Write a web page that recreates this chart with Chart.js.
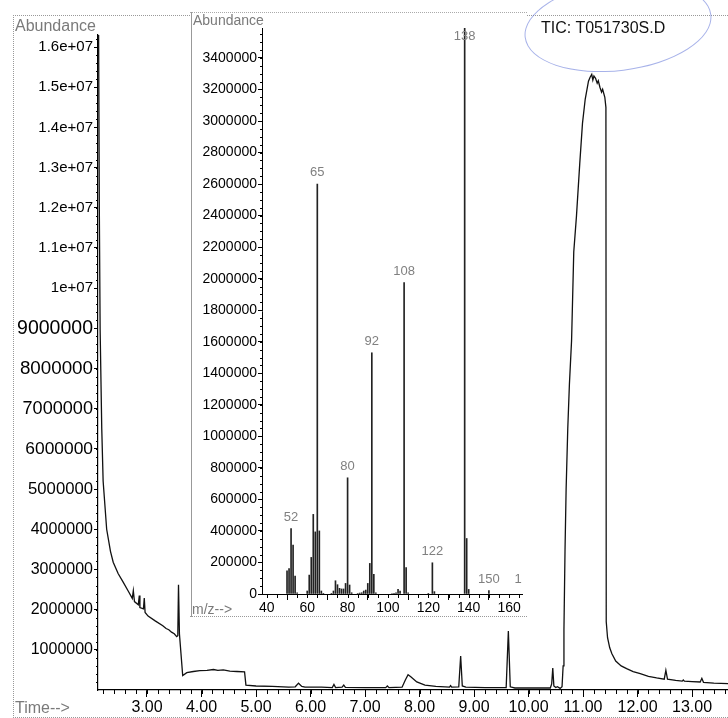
<!DOCTYPE html>
<html>
<head>
<meta charset="utf-8">
<script src="https://cdn.jsdelivr.net/npm/chart.js@4.4.1/dist/chart.umd.min.js"></script>
<style>
html, body { margin: 0; padding: 0; background: #fff; }
body { width: 728px; height: 718px; position: relative; overflow: hidden; font-family: "Liberation Sans", Arial, sans-serif; }
#frame { position: absolute; left: 13px; top: 15px; width: 730px; height: 701px; border-left: 1px dotted #999; border-top: 1px dotted #999; border-bottom: 1px dotted #999; }
#main { position: absolute; left: 0; top: 0; }
#inset-wrap { position: absolute; left: 190px; top: 12px; width: 337px; height: 605px; background: #fff; }
#inset { position: absolute; left: 0; top: 0; }
.edge { position: absolute; }
.txt { position: absolute; white-space: nowrap; line-height: 1; }
.gray { color: #7a7a7a; }
#ring { position: absolute; left: 524px; top: -19px; width: 186px; height: 88px; border: 1.3px solid rgba(95, 115, 215, 0.55); border-radius: 50%; transform: rotate(-7deg); }
</style>
</head>
<body>
<div id="frame"></div>
<canvas id="main" width="728" height="718"></canvas>
<div class="txt gray" style="left:15px; top:18px; font-size:16px;">Abundance</div>
<div class="txt gray" style="left:15px; top:700px; font-size:16px;">Time--&gt;</div>

<div id="inset-wrap">
  <canvas id="inset" width="337" height="605"></canvas>
  <div class="edge" style="left:0; top:0; width:337px; border-top:1px dotted #aaa;"></div>
  <div class="edge" style="left:0; top:604px; width:337px; border-top:1px dotted #999;"></div>
  <div class="edge" style="left:1px; top:0; height:605px; border-left:1px solid #999;"></div>
  <div class="txt gray" style="left:3px; top:1px; font-size:14px;">Abundance</div>
  <div class="txt gray" style="left:2px; top:590px; font-size:14px;">m/z--&gt;</div>
</div>

<div id="ring"></div>
<div class="txt" style="left:541px; top:20px; font-size:16px; color:#111;">TIC: T051730S.D</div>

<script>
// TIC chromatogram (retention time in minutes, abundance)
var retentionTimes = [
    2.11, 2.125, 2.14, 2.17, 2.195, 2.26, 2.33, 2.38, 2.47, 2.56, 2.66, 2.73, 2.749, 2.77,
    2.84, 2.859, 2.87, 2.935, 2.95, 2.965, 3.02, 3.15, 3.29, 3.35, 3.40, 3.45, 3.50, 3.545,
    3.565, 3.578, 3.595, 3.655, 3.73, 3.85, 3.97, 4.10, 4.22, 4.30, 4.40, 4.52, 4.65, 4.79,
    4.815, 5.00, 5.30, 5.60, 5.72, 5.78, 5.84, 5.90, 6.20, 6.40, 6.43, 6.46, 6.58, 6.61,
    6.64, 7.00, 7.38, 7.41, 7.44, 7.68, 7.74, 7.79, 7.84, 7.95, 8.10, 8.30, 8.55, 8.57,
    8.59, 8.72, 8.755, 8.785, 8.85, 9.20, 9.59, 9.63, 9.665, 9.75, 10.20, 10.40, 10.425,
    10.445, 10.465, 10.50, 10.53, 10.58, 10.615, 10.635, 10.65, 10.67, 10.69, 10.72, 10.75,
    10.79, 10.81, 10.83, 10.88, 10.94, 10.99, 11.04, 11.10, 11.13, 11.16, 11.18, 11.20,
    11.23, 11.26, 11.28, 11.31, 11.34, 11.36, 11.40, 11.42, 11.426, 11.45, 11.49, 11.53,
    11.60, 11.70, 11.80, 11.92, 12.05, 12.20, 12.35, 12.49, 12.52, 12.55, 12.70, 12.82,
    12.84, 12.86, 13.00, 13.15, 13.18, 13.21, 13.40, 13.66
];
var ticAbundance = [
    17000000, 12000000, 8970000, 6500000, 5200000, 4000000, 3450000, 3180000, 2900000, 2690000, 2450000, 2280000, 2470000, 2200000,
    2120000, 2350000, 2050000, 2020000, 2290000, 1930000, 1840000, 1720000, 1600000, 1530000, 1500000, 1440000, 1400000, 1330000,
    1350000, 2620000, 1400000, 360000, 430000, 460000, 480000, 490000, 510000, 490000, 500000, 470000, 460000, 450000,
    120000, 100000, 90000, 70000, 80000, 170000, 90000, 70000, 70000, 60000, 140000, 60000, 70000, 120000,
    65000, 60000, 60000, 100000, 60000, 70000, 250000, 380000, 330000, 200000, 120000, 90000, 70000, 110000,
    70000, 80000, 845000, 100000, 70000, 60000, 60000, 1465000, 80000, 50000, 50000, 50000, 150000,
    546000, 100000, 60000, 80000, 40000, 80000, 600000, 1500000, 3500000, 5000000, 6500000, 7600000,
    8700000, 9800000, 10900000, 11800000, 13100000, 14100000, 14700000, 15150000, 15250000, 15320000, 15180000, 15280000,
    15220000, 15100000, 15160000, 15000000, 14880000, 14950000, 14750000, 14500000, 1700000, 1300000, 1050000, 900000,
    720000, 600000, 530000, 460000, 405000, 340000, 300000, 270000, 490000, 270000, 240000, 220000,
    250000, 220000, 210000, 200000, 290000, 190000, 170000, 160000
];

// mass spectrum inset (m/z, abundance)
var spectrumMz = [
    50, 51, 52, 53, 54, 55, 60, 61, 62, 63, 64, 65, 66, 67, 68,
    72, 73, 74, 75, 76, 77, 78, 79, 80, 81, 82,
    85, 86, 87, 88, 89, 90, 91, 92, 93, 94,
    102, 103, 104, 105, 106, 108, 109, 110,
    120, 122, 123, 138, 139, 140, 150, 168
];
var spectrumAbund = [
    147000, 162000, 415000, 310000, 114000, 8000, 19000, 120000, 232000, 505000, 394000, 2600000, 400000, 19000, 4000,
    4000, 19000, 84000, 59000, 36000, 32000, 32000, 67000, 737000, 57000, 8000,
    3000, 6000, 8000, 19000, 25000, 67000, 194000, 1530000, 124000, 8000,
    3000, 4000, 8000, 29000, 19000, 1975000, 168000, 8000,
    4000, 198000, 15000, 3600000, 352000, 29000, 21000, 20000
];
var labelledMz = [52, 65, 80, 92, 108, 122, 138, 150, 168];

// tick values
var mainYTickValues = [
    1000000, 2000000, 3000000, 4000000, 5000000, 6000000, 7000000, 8000000,
    9000000, 10000000, 11000000, 12000000, 13000000, 14000000, 15000000, 16000000
];
var mainXTickValues = [3, 4, 5, 6, 7, 8, 9, 10, 11, 12, 13];
var insetYTickValues = [
    0, 200000, 400000, 600000, 800000, 1000000, 1200000, 1400000, 1600000, 1800000,
    2000000, 2200000, 2400000, 2600000, 2800000, 3000000, 3200000, 3400000
];
var insetXTickValues = [40, 60, 80, 100, 120, 140, 160];

var mainRange = { xMin: 2.101, xMax: 13.66, yMin: 0, yMax: 16300000 };
var insetRange = { xMin: 37.6, xMax: 166.4, yMin: 0, yMax: 3590000 };

var FONT = '"Liberation Sans", Arial, sans-serif';

var minorTicks = {
    id: 'minorTicks',
    afterDraw: function (chart, args, opts) {
        var ctx = chart.ctx, xs = chart.scales.x, ys = chart.scales.y, i, v, p;
        ctx.save();
        ctx.strokeStyle = '#000';
        ctx.lineWidth = 1;
        ctx.beginPath();
        for (i = 0; (v = opts.xStart + i * opts.xStep) <= xs.max; i += 1) {
            p = Math.round(xs.getPixelForValue(v)) + 0.5;
            ctx.moveTo(p, xs.top);
            ctx.lineTo(p, xs.top + opts.xLen);
        }
        for (i = 1; (v = i * opts.yStep) <= ys.max; i += 1) {
            p = Math.round(ys.getPixelForValue(v)) + 0.5;
            ctx.moveTo(ys.right, p);
            ctx.lineTo(ys.right - opts.yLen, p);
        }
        ctx.stroke();
        ctx.restore();
    }
};

var peakLabels = {
    id: 'peakLabels',
    afterDatasetsDraw: function (chart) {
        var ctx = chart.ctx, area = chart.chartArea, xs = chart.scales.x, ys = chart.scales.y;
        ctx.save();
        ctx.beginPath();
        ctx.rect(area.left, 0, area.right - area.left, chart.height);
        ctx.clip();
        ctx.font = '13px ' + FONT;
        ctx.fillStyle = '#808080';
        ctx.textAlign = 'center';
        ctx.textBaseline = 'bottom';
        labelledMz.forEach(function (m) {
            var i = spectrumMz.indexOf(m);
            var top = ys.getPixelForValue(spectrumAbund[i]);
            ctx.fillText(String(m), xs.getPixelForValue(m), Math.max(top - 5, area.top + 15));
        });
        ctx.restore();
    }
};

function mainYLabel(v) {
    if (v >= 10000000) {
        return (Math.round(v / 1000000) / 10) + 'e+07';
    }
    return String(v);
}

// the scanned labels grow a little towards the middle of the axis
function mainYFont(context) {
    var v = context.tick ? context.tick.value : 0;
    var size = 16;
    if (v >= 10000000) {
        size = 15;
    } else if (v >= 5000000) {
        size = 16 + (v - 4000000) / 1000000 * 0.7;
    }
    return { family: FONT, size: size };
}

function fixedTicks(values) {
    return function (scale) {
        scale.ticks = values.map(function (v) { return { value: v }; });
    };
}

function axisStyle(width, tickLen) {
    return {
        border: { display: true, color: '#000', width: width },
        grid: { display: true, drawOnChartArea: false, drawTicks: true, tickLength: tickLen, color: '#000' }
    };
}

var mainX = axisStyle(1.2, 7);
mainX.type = 'linear';
mainX.min = mainRange.xMin;
mainX.max = mainRange.xMax;
mainX.afterBuildTicks = fixedTicks(mainXTickValues);
mainX.ticks = {
    autoSkip: false, maxRotation: 0,
    padding: 1, color: '#000', font: { family: FONT, size: 16 },
    callback: function (v) { return Number(v).toFixed(2); }
};
mainX.afterFit = function (s) { s.height = 28; };

var mainY = axisStyle(1.2, 4);
mainY.min = mainRange.yMin;
mainY.max = mainRange.yMax;
mainY.afterBuildTicks = fixedTicks(mainYTickValues);
mainY.ticks = {
    autoSkip: false,
    padding: 1, color: '#000', font: mainYFont,
    callback: mainYLabel
};
mainY.afterFit = function (s) { s.width = 98; };

new Chart(document.getElementById('main'), {
    type: 'line',
    data: {
        datasets: [{
            data: retentionTimes.map(function (t, i) { return { x: t, y: ticAbundance[i] }; }),
            borderColor: '#111',
            borderWidth: 1.3,
            pointRadius: 0,
            tension: 0,
            fill: false
        }]
    },
    options: {
        responsive: false,
        animation: false,
        layout: { padding: { top: 35, left: 0, right: 0, bottom: 0 } },
        plugins: {
            legend: { display: false },
            tooltip: { enabled: false },
            minorTicks: { xStart: 2.2, xStep: 0.2, xLen: 4, yStep: 200000, yLen: 2 }
        },
        scales: { x: mainX, y: mainY }
    },
    plugins: [minorTicks]
});

var insetX = axisStyle(1, 6);
insetX.type = 'linear';
insetX.offset = false;
insetX.min = insetRange.xMin;
insetX.max = insetRange.xMax;
insetX.afterBuildTicks = fixedTicks(insetXTickValues);
insetX.ticks = {
    autoSkip: false, maxRotation: 0,
    padding: 0, color: '#000', font: { family: FONT, size: 14 }
};
insetX.afterFit = function (s) { s.height = 23; };

var insetY = axisStyle(1, 4);
insetY.min = insetRange.yMin;
insetY.max = insetRange.yMax;
insetY.afterBuildTicks = fixedTicks(insetYTickValues);
insetY.ticks = {
    autoSkip: false,
    padding: 1, color: '#000', font: { family: FONT, size: 14 },
    callback: function (v) { return String(v); }
};
insetY.afterFit = function (s) { s.width = 72; };

new Chart(document.getElementById('inset'), {
    type: 'bar',
    data: {
        datasets: [{
            data: spectrumMz.map(function (m, i) { return { x: m, y: spectrumAbund[i] }; }),
            backgroundColor: '#222',
            borderWidth: 0,
            barThickness: 1
        }]
    },
    options: {
        responsive: false,
        animation: false,
        layout: { padding: { top: 16, left: 0, right: 5, bottom: 0 } },
        plugins: {
            legend: { display: false },
            tooltip: { enabled: false },
            minorTicks: { xStart: 40, xStep: 5, xLen: 4, yStep: 50000, yLen: 2 }
        },
        scales: { x: insetX, y: insetY }
    },
    plugins: [minorTicks, peakLabels]
});
</script>
</body>
</html>
